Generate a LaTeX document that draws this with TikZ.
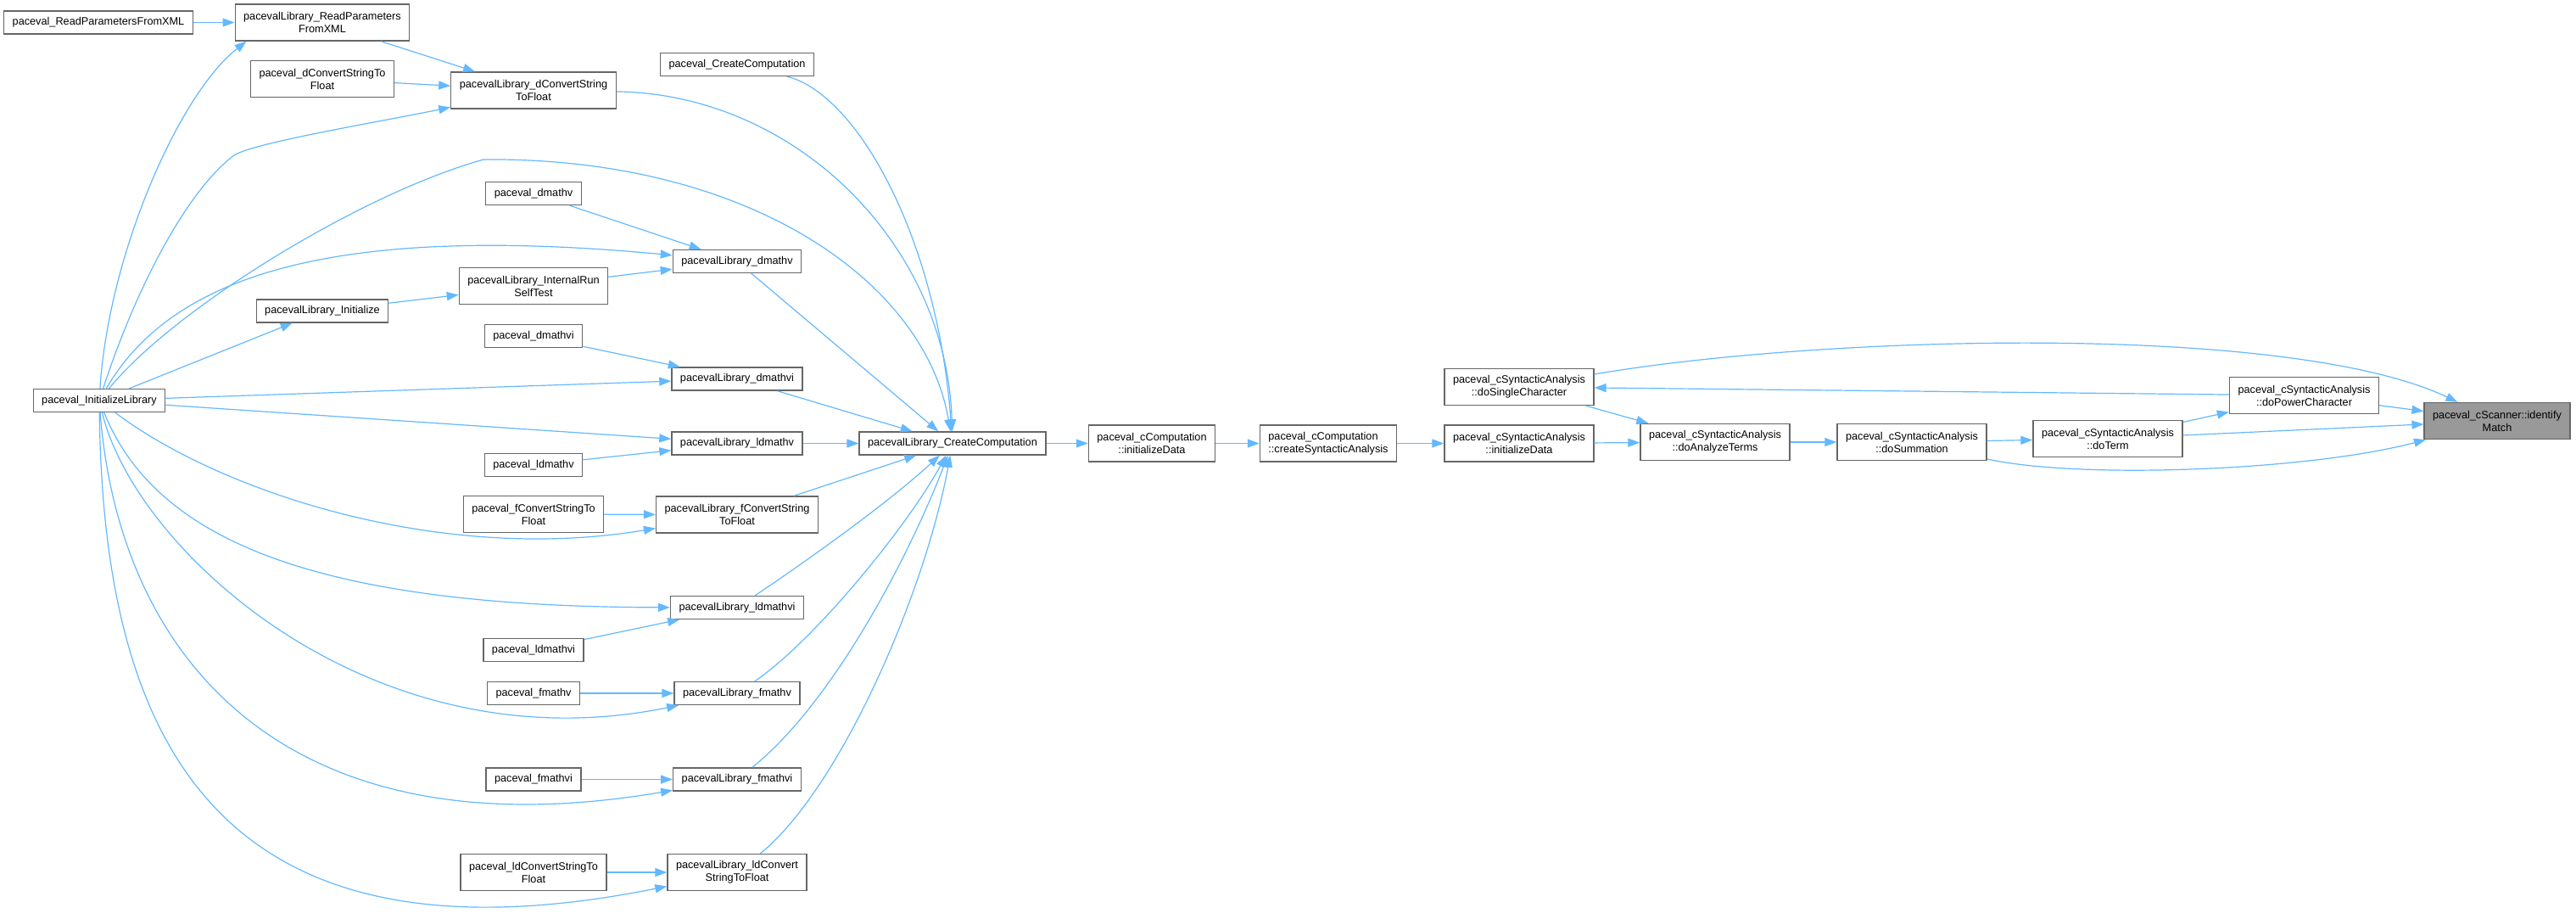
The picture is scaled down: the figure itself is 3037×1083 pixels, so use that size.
\documentclass[tikz,border=0pt]{standalone}
\usepackage{fontspec}
\setmainfont{Liberation Sans}
\usepackage{tikz}
\usetikzlibrary{arrows.meta}
\definecolor{edgeblue}{HTML}{63B8FF}
\definecolor{boxgray}{HTML}{666666}
\definecolor{selgray}{HTML}{999999}

\begin{document}
\begin{tikzpicture}[x=1pt, y=-1pt, inner sep=0pt]
    \tikzstyle{fn}=[rectangle, draw=boxgray, fill=white, line width=1.3pt, text=black, font=\fontsize{12.7}{15}\selectfont, inner xsep=10pt, minimum height=27pt, align=center]
    \tikzstyle{fn2}=[fn, minimum height=43pt]
    \tikzstyle{sel}=[fn2, fill=selgray]
    \tikzstyle{call}=[-{Triangle[length=14pt,width=10pt]}, draw=edgeblue, line width=1.2pt]

    \useasboundingbox (0,0) rectangle (3037,1083);

    % callers, left columns
    \node[fn] (RPFX) at (116,26.5) {paceval\_ReadParametersFromXML};
    \node[fn2] (LRPFX) at (380,26.5) {pacevalLibrary\_ReadParameters\\FromXML};
    \node[fn2] (dCSTF) at (380,93) {paceval\_dConvertStringTo\\Float};
    \node[fn2] (LdCSTF) at (629,106.5) {pacevalLibrary\_dConvertString\\ToFloat};
    \node[fn] (CC) at (869,76) {paceval\_CreateComputation};
    \node[fn] (dmv) at (629,228) {paceval\_dmathv};
    \node[fn2] (LIRST) at (629,337) {pacevalLibrary\_InternalRun\\SelfTest};
    \node[fn] (LInit) at (380,366.5) {pacevalLibrary\_Initialize};
    \node[fn] (dmvi) at (629,396) {paceval\_dmathvi};
    \node[fn] (InitLib) at (117,472) {paceval\_InitializeLibrary};
    \node[fn] (ldmv) at (629,548) {paceval\_ldmathv};
    \node[fn2] (fCSTF) at (629,606) {paceval\_fConvertStringTo\\Float};
    \node[fn] (ldmvi) at (629,766) {paceval\_ldmathvi};
    \node[fn] (fmv) at (629,817) {paceval\_fmathv};
    \node[fn] (fmvi) at (629,918.5) {paceval\_fmathvi};
    \node[fn2] (ldCSTF) at (629,1028) {paceval\_ldConvertStringTo\\Float};

    % library wrappers
    \node[fn] (Ldmv) at (869,308) {pacevalLibrary\_dmathv};
    \node[fn] (Ldmvi) at (869,446.5) {pacevalLibrary\_dmathvi};
    \node[fn] (Lldmv) at (869,522.5) {pacevalLibrary\_ldmathv};
    \node[fn2] (LfCSTF) at (869,606.5) {pacevalLibrary\_fConvertString\\ToFloat};
    \node[fn] (Lldmvi) at (869,716) {pacevalLibrary\_ldmathvi};
    \node[fn] (Lfmv) at (869,817) {pacevalLibrary\_fmathv};
    \node[fn] (Lfmvi) at (869,918.5) {pacevalLibrary\_fmathvi};
    \node[fn2] (LldCSTF) at (869,1028) {pacevalLibrary\_ldConvert\\StringToFloat};
    \node[fn] (LCC) at (1123,522.5) {pacevalLibrary\_CreateComputation};

    % computation and syntactic analysis chain
    \node[fn2] (cCI) at (1358,522.5) {paceval\_cComputation\\::initializeData};
    \node[fn2, align=left] (cCCSA) at (1566,522.5) {paceval\_cComputation\\::createSyntacticAnalysis};
    \node[fn2] (SAI) at (1791,522.5) {paceval\_cSyntacticAnalysis\\::initializeData};
    \node[fn2] (SASC) at (1791,456) {paceval\_cSyntacticAnalysis\\::doSingleCharacter};
    \node[fn2] (SAAT) at (2022,521) {paceval\_cSyntacticAnalysis\\::doAnalyzeTerms};
    \node[fn2] (SASum) at (2254,521) {paceval\_cSyntacticAnalysis\\::doSummation};
    \node[fn2] (SATerm) at (2485,517) {paceval\_cSyntacticAnalysis\\::doTerm};
    \node[fn2] (SAPow) at (2716.5,466) {paceval\_cSyntacticAnalysis\\::doPowerCharacter};
    \node[sel] (Scan) at (2944,496) {paceval\_cScanner::identify\\Match};

    \draw[call] (RPFX) -- (LRPFX);
    \draw[call] (InitLib) .. controls (128,300) and (211,111) .. ([xshift=14pt]LRPFX.south west);
    \draw[call] (dCSTF) -- (LdCSTF);
    \draw[call] (LRPFX) -- (LdCSTF);
    \draw[call] (InitLib) .. controls (160,340) and (220,225) .. (276,183) .. controls (300,168) and (440,145) .. (LdCSTF);
    \draw[call] (InitLib) .. controls (205,364) and (426,228) .. (570,188) .. controls (880,185) and (1090,330) .. (LCC);
    \draw[call] (CC) .. controls (1010,110) and (1105,280) .. (LCC);
    \draw[call] (LdCSTF) .. controls (940,111) and (1116,290) .. (LCC);
    \draw[call] (dmv) -- (Ldmv);
    \draw[call] (LIRST) -- (Ldmv);
    \draw[call] (InitLib) .. controls (200,330) and (380,262) .. (Ldmv);
    \draw[call] (InitLib) -- (LInit);
    \draw[call] (LInit) -- (LIRST);
    \draw[call] (InitLib) -- (Ldmvi);
    \draw[call] (dmvi) -- (Ldmvi);
    \draw[call] (InitLib) -- (Lldmv);
    \draw[call] (ldmv) -- (Lldmv);
    \draw[call] (fCSTF) -- (LfCSTF);
    \draw[call] (InitLib) .. controls (260,580) and (520,665) .. (LfCSTF);
    \draw[call] (ldmvi) -- (Lldmvi);
    \draw[call] (InitLib) .. controls (185,640) and (380,715) .. (Lldmvi);
    \draw[call] (fmv) -- (Lfmv);
    \draw[call] (InitLib) .. controls (160,650) and (440,905) .. (Lfmv);
    \draw[call] (fmvi) -- (Lfmvi);
    \draw[call] (InitLib) .. controls (140,770) and (330,1010) .. (Lfmvi);
    \draw[call] (ldCSTF) -- (LldCSTF);
    \draw[call] (InitLib) .. controls (122,880) and (260,1150) .. (LldCSTF);

    % into pacevalLibrary_CreateComputation
    \draw[call] (Ldmv) -- (LCC);
    \draw[call] (Ldmvi) -- (LCC);
    \draw[call] (Lldmv) -- (LCC);
    \draw[call] (LfCSTF) -- (LCC);
    \draw[call] (Lldmvi) .. controls (960,655) and (1050,590) .. (LCC);
    \draw[call] (Lfmv) .. controls (960,755) and (1070,620) .. (LCC);
    \draw[call] (Lfmvi) .. controls (980,830) and (1070,660) .. (LCC);
    \draw[call] (LldCSTF) .. controls (990,930) and (1090,700) .. (LCC);

    \draw[call] (LCC) -- (cCI);
    \draw[call] (cCI) -- (cCCSA);
    \draw[call] (cCCSA) -- (SAI);
    \draw[call] (SAI) -- (SAAT);
    \draw[call] (SASC) -- (SAAT);
    \draw[call] (SAAT) -- (SASum);
    \draw[call] (SASum) -- (SATerm);
    \draw[call] (SATerm) -- (SAPow);
    \draw[call] (SAPow) -- (SASC);
    \draw[call] (SATerm) -- (Scan);
    \draw[call] (SAPow) -- (Scan);
    \draw[call] (SASC) .. controls (2150,395) and (2700,380) .. (Scan);
    \draw[call] (SASum) .. controls (2450,565) and (2720,555) .. (Scan);
\end{tikzpicture}
\end{document}
